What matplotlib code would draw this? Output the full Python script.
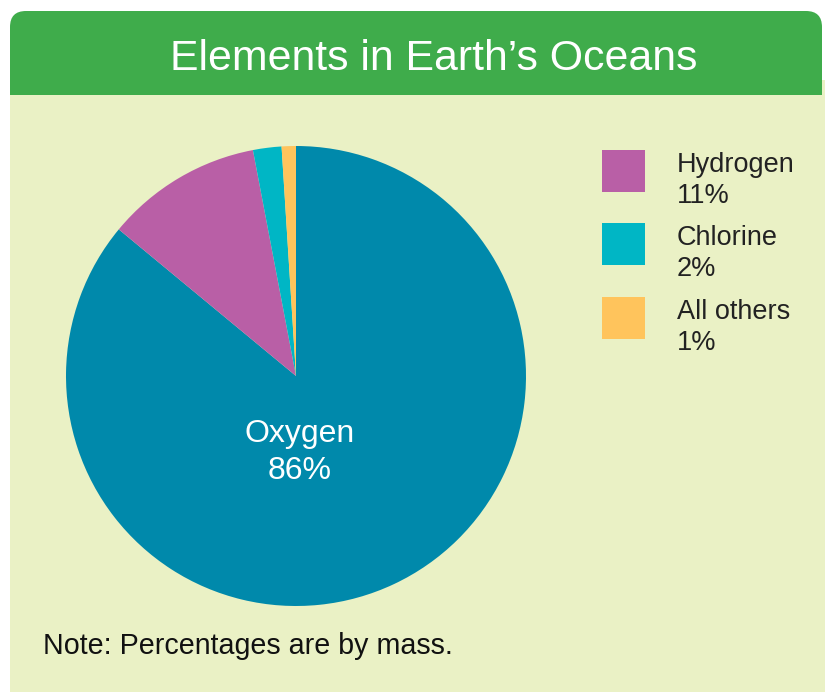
import matplotlib
matplotlib.use("Agg")
import matplotlib.pyplot as plt
from matplotlib.patches import FancyBboxPatch, Rectangle

plt.rcParams['font.family'] = ['Liberation Sans', 'DejaVu Sans']

# Data
labels = ["Oxygen", "Hydrogen", "Chlorine", "All others"]
values = [86, 11, 2, 1]
colors = ["#0089AB", "#B95FA6", "#00B6C5", "#FFC45C"]
title = "Elements in Earth\u2019s Oceans"
note = "Note: Percentages are by mass."

W, H = 825, 693
fig = plt.figure(figsize=(W / 100, H / 100), dpi=100)
fig.patch.set_facecolor("white")

bg = fig.add_axes([0, 0, 1, 1])
bg.set_xlim(0, W)
bg.set_ylim(H, 0)
bg.axis("off")
bg.set_zorder(0)

# light panel
bg.add_patch(Rectangle((10, 80), 830, 612, facecolor="#EAF1C5", edgecolor="none", zorder=0))
# green header with rounded corners
bg.add_patch(FancyBboxPatch((10, 11), 812, 84, boxstyle="round,pad=0,rounding_size=16",
                            facecolor="#3FAC4B", edgecolor="none", zorder=1))
bg.add_patch(Rectangle((10, 60), 812, 35, facecolor="#3FAC4B", edgecolor="none", zorder=1))
bg.text(434, 70, title, color="white", fontsize=30.8, ha="center", va="baseline", zorder=2)

# legend
sq_top = [150, 223, 297]
for lab, val, col, y in zip(labels[1:], values[1:], colors[1:], sq_top):
    bg.add_patch(Rectangle((602, y), 43, 42, facecolor=col, edgecolor="none", zorder=2))
    bg.text(677, y + 22, lab, fontsize=19.5, color="#222222", ha="left", va="baseline", zorder=2)
    bg.text(677, y + 53, f"{val}%", fontsize=19.5, color="#222222", ha="left", va="baseline", zorder=2)

bg.text(43, 654, note, fontsize=20.6, color="#111111", ha="left", va="baseline", zorder=2)

# pie
cx, cy, r = 296, 376, 230
pax = fig.add_axes([(cx - r) / W, (H - cy - r) / H, 2 * r / W, 2 * r / H])
pax.pie(values, colors=colors, startangle=90, counterclock=False, radius=1,
        wedgeprops=dict(linewidth=0))
pax.set_xlim(-1, 1)
pax.set_ylim(-1, 1)
pax.set_aspect("equal")
pax.axis("off")
pax.set_zorder(1)

txt_ax = fig.add_axes([0, 0, 1, 1])
txt_ax.set_xlim(0, W)
txt_ax.set_ylim(H, 0)
txt_ax.axis("off")
txt_ax.set_zorder(2)
txt_ax.text(300, 442, labels[0], fontsize=23, color="white", ha="center", va="baseline")
txt_ax.text(300, 479, f"{values[0]}%", fontsize=23, color="white", ha="center", va="baseline")

fig.savefig("out.png", dpi=100, facecolor=fig.get_facecolor())
